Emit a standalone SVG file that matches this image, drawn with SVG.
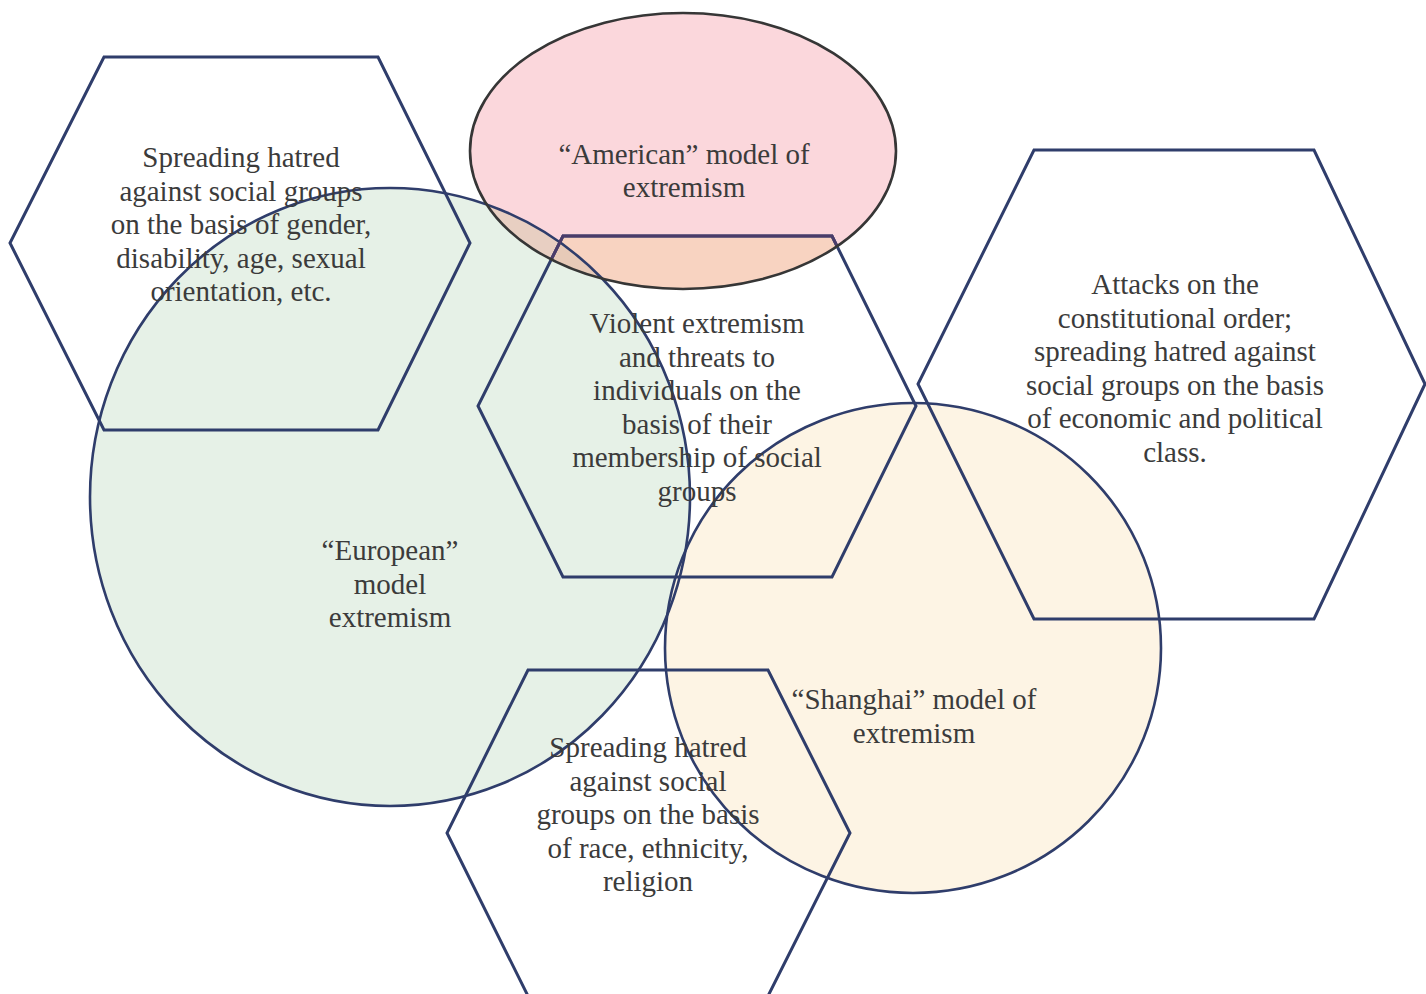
<svg xmlns="http://www.w3.org/2000/svg" width="1426" height="994" viewBox="0 0 1426 994">
  <style>
    .hex { fill: none; stroke: #2f3d6b; stroke-width: 3; stroke-linejoin: miter; }
    .ring { stroke: #2f3d6b; stroke-width: 2.6; }
    .label { font-size: 29px; fill: #3b3b3b; text-anchor: middle; }
  </style>
  <defs>
    <ellipse id="shape-american" cx="683" cy="151" rx="213" ry="138"/>
    <ellipse id="shape-european" cx="390" cy="497" rx="300" ry="309"/>
    <polygon id="shape-violent" points="563,236 832,236 916,406 832,577 563,577 478,406"/>
    <clipPath id="clip-american"><use href="#shape-american"/></clipPath>
    <clipPath id="clip-european"><use href="#shape-european"/></clipPath>
  </defs>

  <rect width="1426" height="994" fill="#ffffff"/>

  <!-- model fills -->
  <g id="fills">
    <use href="#shape-european" fill="#e6f1e7"/>
    <ellipse cx="913" cy="648" rx="248" ry="245" fill="#fdf4e4"/>
    <use href="#shape-american" fill="#fbd7dc"/>
    <!-- overlaps inside the American ellipse -->
    <g clip-path="url(#clip-american)">
      <use href="#shape-european" fill="#e8cfc2"/>
      <use href="#shape-violent" fill="#f8d3c1"/>
      <g clip-path="url(#clip-european)">
        <use href="#shape-violent" fill="#e7cab8"/>
      </g>
    </g>
  </g>

  <!-- outlines -->
  <g id="connectors"></g>

  <g font-family="Liberation Serif, serif">
  <g id="node-european">
    <use href="#shape-european" class="ring" fill="none"/>
    <text class="label" x="390" y="560">“European”</text>
    <text class="label" x="390" y="593.5">model</text>
    <text class="label" x="390" y="627">extremism</text>
  </g>

  <g id="node-shanghai">
    <ellipse cx="913" cy="648" rx="248" ry="245" class="ring" fill="none"/>
    <text class="label" x="914" y="709">“Shanghai” model of</text>
    <text class="label" x="914" y="742.5">extremism</text>
  </g>

  <g id="node-hatred-gender">
    <polygon class="hex" points="104,57 378,57 470,243 378,430 104,430 10,243"/>
    <text class="label" x="241" y="167">Spreading hatred</text>
    <text class="label" x="241" y="200.5">against social groups</text>
    <text class="label" x="241" y="234">on the basis of gender,</text>
    <text class="label" x="241" y="267.5">disability, age, sexual</text>
    <text class="label" x="241" y="301">orientation, etc.</text>
  </g>

  <g id="node-violent">
    <use href="#shape-violent" class="hex"/>
    <use href="#shape-violent" class="hex" clip-path="url(#clip-american)" style="stroke:#4a3c6a"/>
    <text class="label" x="697" y="333">Violent extremism</text>
    <text class="label" x="697" y="366.5">and threats to</text>
    <text class="label" x="697" y="400">individuals on the</text>
    <text class="label" x="697" y="433.5">basis of their</text>
    <text class="label" x="697" y="467">membership of social</text>
    <text class="label" x="697" y="500.5">groups</text>
  </g>

  <g id="node-american">
    <use href="#shape-american" fill="none" stroke="#363636" stroke-width="2.6"/>
    <text class="label" x="684" y="164">“American” model of</text>
    <text class="label" x="684" y="197">extremism</text>
  </g>

  <g id="node-constitutional">
    <polygon class="hex" points="1034,150 1314,150 1425,384 1314,619 1034,619 918,384"/>
    <text class="label" x="1175" y="294">Attacks on the</text>
    <text class="label" x="1175" y="327.5">constitutional order;</text>
    <text class="label" x="1175" y="361">spreading hatred against</text>
    <text class="label" x="1175" y="394.5">social groups on the basis</text>
    <text class="label" x="1175" y="428">of economic and political</text>
    <text class="label" x="1175" y="461.5">class.</text>
  </g>

  <g id="node-hatred-race">
    <polygon class="hex" points="528,670 768,670 850,833 768,996 528,996 447,833"/>
    <text class="label" x="648" y="757">Spreading hatred</text>
    <text class="label" x="648" y="790.5">against social</text>
    <text class="label" x="648" y="824">groups on the basis</text>
    <text class="label" x="648" y="857.5">of race, ethnicity,</text>
    <text class="label" x="648" y="891">religion</text>
  </g>
  </g>
</svg>
